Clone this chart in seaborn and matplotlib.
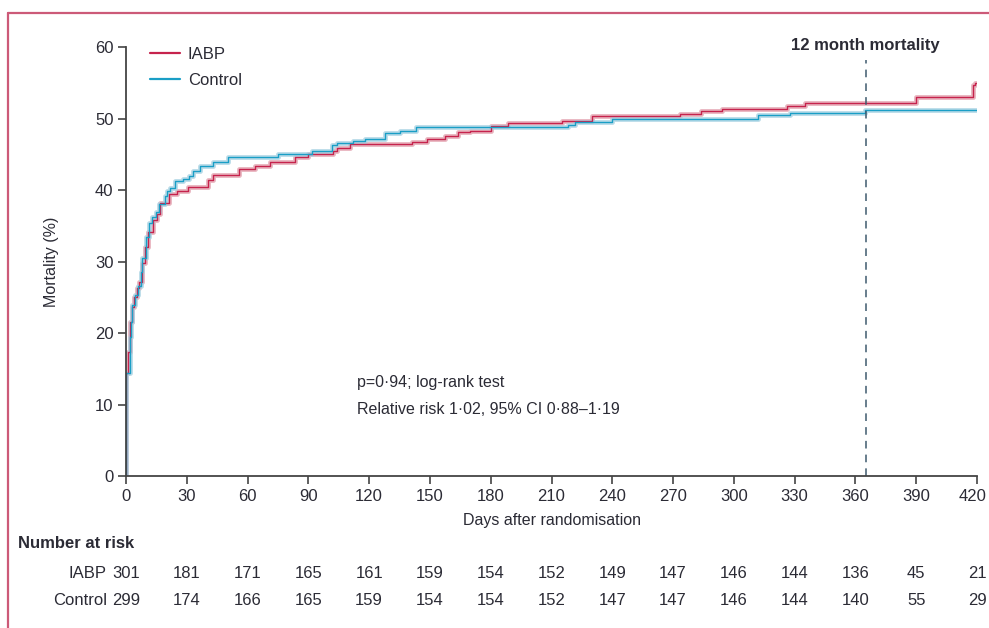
import numpy as np
import pandas as pd
import matplotlib
matplotlib.use("Agg")
import matplotlib.pyplot as plt
import matplotlib.transforms as mtransforms
from matplotlib.lines import Line2D
import seaborn as sns

# Kaplan-Meier style mortality curves (day, % mortality)
iabp_days = [0, 1, 2, 2.8, 4.1, 5.3, 6.4, 7.7, 9.4, 11, 13.5, 15.1, 16.8, 21.2, 25, 30.7,
             40.6, 43, 56, 63.6, 71, 83.4, 90, 102, 104, 110.6, 141, 148.4, 157.5, 164,
             169.8, 180, 188.5, 215, 223.6, 230, 273.5, 284, 294, 326, 335, 390, 418, 419, 420]
iabp_pct = [14.4, 17.4, 21.6, 23.7, 25.1, 26.3, 27.2, 29.8, 32.1, 34.2, 35.8, 36.7, 38.2, 39.5, 39.9, 40.5,
            41.4, 42.1, 42.9, 43.4, 43.9, 44.6, 45.0, 45.5, 45.9, 46.4, 46.7, 47.1, 47.6, 48.1,
            48.3, 49.0, 49.4, 49.6, 49.7, 50.3, 50.7, 51.0, 51.3, 51.7, 52.2, 53.0, 54.7, 55.0, 55.0]

control_days = [0, 2, 2.4, 3.2, 4.5, 5.8, 7.4, 8.1, 9.7, 11.5, 13, 14.6, 16.4, 19.3, 20.1, 21.8,
                24.3, 28, 31, 33, 36.5, 43, 50.5, 75, 91.6, 101.5, 104, 112, 118, 128, 135, 143,
                218, 221.6, 240, 312, 327.7, 364.7, 420]
control_pct = [14.4, 19.5, 21.6, 23.9, 25.3, 26.6, 28.5, 30.5, 33.5, 35.4, 36.3, 37.0, 38.1, 39.2, 39.9, 40.3,
               41.2, 41.6, 42.0, 42.7, 43.4, 43.9, 44.6, 45.0, 45.4, 46.3, 46.6, 46.8, 47.1, 48.0, 48.3, 48.8,
               49.1, 49.5, 49.9, 50.5, 50.8, 51.2, 51.2]

x_ticks = [0, 30, 60, 90, 120, 150, 180, 210, 240, 270, 300, 330, 360, 390, 420]
y_ticks = [0, 10, 20, 30, 40, 50, 60]
risk_iabp = [301, 181, 171, 165, 161, 159, 154, 152, 149, 147, 146, 144, 136, 45, 21]
risk_control = [299, 174, 166, 165, 159, 154, 154, 152, 147, 147, 146, 144, 140, 55, 29]

df = pd.concat([
    pd.DataFrame({"day": [0] + iabp_days, "pct": [0] + iabp_pct, "group": "IABP"}),
    pd.DataFrame({"day": [0] + control_days, "pct": [0] + control_pct, "group": "Control"}),
])

sns.set_style("white")
plt.rcParams["font.family"] = ["Liberation Sans", "DejaVu Sans"]
txt = "#2b2b35"

dark = {"IABP": "#c6234d", "Control": "#1a9ec6"}
light = {"IABP": "#e3a3b0", "Control": "#a9d3e3"}

fig = plt.figure(figsize=(9.89, 6.28), dpi=100)
ax = fig.add_axes([0.1274, 0.242, 0.8605, 0.683])

sns.lineplot(data=df, x="day", y="pct", hue="group", palette=light, estimator=None,
             drawstyle="steps-post", lw=3.5, alpha=0.8, legend=False, ax=ax)
sns.lineplot(data=df, x="day", y="pct", hue="group", palette=dark, estimator=None,
             drawstyle="steps-post", lw=1.0, legend=False, ax=ax)

ax.set_xlim(0, 420)
ax.set_ylim(0, 60)
ax.set_xticks(x_ticks)
ax.set_yticks(y_ticks)
for s in ["top", "right"]:
    ax.spines[s].set_visible(False)
for s in ["left", "bottom"]:
    ax.spines[s].set_color("#444444")
    ax.spines[s].set_linewidth(1.3)
ax.tick_params(direction="out", length=6, width=1.2, color="#444444",
               labelsize=12, labelcolor=txt, pad=3, left=True, bottom=True)
ax.set_xlabel("Days after randomisation", fontsize=11.5, color=txt, labelpad=7)
ax.set_ylabel("Mortality (%)", fontsize=11.5, color=txt, labelpad=26)

# nudge the last x tick label so it stays inside the canvas
last = ax.xaxis.get_major_ticks()[-1].label1
last.set_transform(last.get_transform() + mtransforms.ScaledTranslation(-3 / 72, 0, fig.dpi_scale_trans))

# 12 month marker
ax.plot([365, 365], [0, 58.2], ls=(0, (5, 4)), color="#3e5a6e", lw=1.1)
ax.text(365, 60.2, "12 month mortality", ha="center", va="center", fontsize=12,
        fontweight="bold", color=txt, clip_on=False)

ax.text(0.271, 0.219, "p=0·94; log-rank test", transform=ax.transAxes,
        fontsize=11.5, color=txt, va="center")
ax.text(0.271, 0.154, "Relative risk 1·02, 95% CI 0·88–1·19", transform=ax.transAxes,
        fontsize=11.5, color=txt, va="center")

handles = [Line2D([], [], color=dark["IABP"], lw=1.6), Line2D([], [], color=dark["Control"], lw=1.6)]
ax.legend(handles, ["IABP", "Control"], loc="upper left", bbox_to_anchor=(0.01, 1.035),
          frameon=False, fontsize=12, handlelength=1.8, handletextpad=0.5,
          labelspacing=0.65, labelcolor=txt)

# number at risk table
fig.text(18 / 989, 1 - 543 / 628, "Number at risk", fontsize=12, fontweight="bold",
         color=txt, va="center")
trans = ax.get_xaxis_transform()
for ypx, name, vals in [(573, "IABP", risk_iabp), (600, "Control", risk_control)]:
    yax = (476 - ypx) / 429
    ax.text(-9.5, yax, name, transform=trans, ha="right", va="center", fontsize=12,
            color=txt, clip_on=False)
    for xv, n in zip(x_ticks, vals):
        ax.text(xv, yax, str(n), transform=trans, ha="center", va="center",
                fontsize=12, color=txt, clip_on=False)

# pink frame on top and left
frame_c = "#cc5a78"
fig.add_artist(Line2D([8 / 989, 1], [1 - 13 / 628, 1 - 13 / 628], color=frame_c, lw=1.6))
fig.add_artist(Line2D([8 / 989, 8 / 989], [0, 1 - 13 / 628], color=frame_c, lw=1.6))

fig.savefig("out.png", dpi=100)
